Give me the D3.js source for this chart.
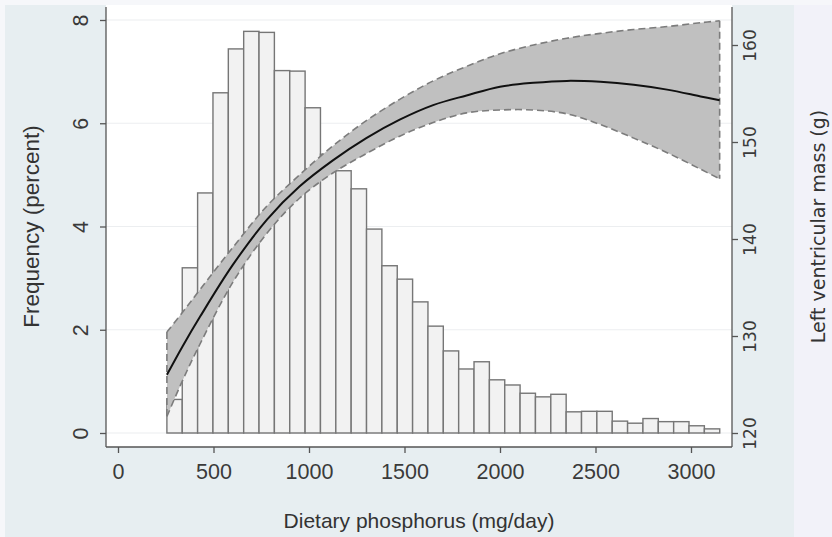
<!DOCTYPE html>
<html>
<head>
<meta charset="utf-8">
<script src="https://cdn.jsdelivr.net/npm/d3@7"></script>
<style>
  html, body { margin: 0; padding: 0; background: #f6f7fa; }
  svg { display: block; }
</style>
</head>
<body>
<svg id="chart" width="832" height="537"></svg>
<script>
// ---------------- data ----------------
const binStart = 256;           // mg/day, left edge of first histogram bin
const binWidth = 80.4;          // mg/day
const freqPercent = [0.65, 3.2, 4.65, 6.59, 7.44, 7.78, 7.76, 7.02, 7.01, 6.3,
                     5.4, 5.08, 4.73, 3.95, 3.24, 2.98, 2.54, 2.07, 1.59, 1.24,
                     1.38, 1.03, 0.93, 0.77, 0.70, 0.75, 0.41, 0.42, 0.42, 0.23,
                     0.19, 0.28, 0.22, 0.22, 0.14, 0.08];

const phosphorus = [256, 340, 430, 600, 780, 950, 1125, 1300, 1475, 1650, 1825, 2000, 2175, 2350, 2525, 2700, 2875, 3050, 3150];
const lvmFit     = [126.0, 129.0, 132.0, 137.3, 142.0, 145.4, 148.1, 150.4, 152.3, 153.8, 154.8, 155.7, 156.1, 156.3, 156.2, 155.9, 155.4, 154.7, 154.3];
const lvmUpper   = [130.4, 132.5, 134.8, 139.1, 143.4, 146.6, 149.6, 152.2, 154.4, 156.3, 157.8, 159.1, 160.0, 160.7, 161.2, 161.6, 161.9, 162.3, 162.5];
const lvmLower   = [121.7, 125.5, 129.2, 135.5, 140.6, 144.2, 146.8, 148.8, 150.6, 152.0, 153.0, 153.3, 153.3, 152.9, 151.8, 150.4, 148.9, 147.2, 146.2];

const xTicks = [0, 500, 1000, 1500, 2000, 2500, 3000];
const yLeftTicks = [0, 2, 4, 6, 8];
const yRightTicks = [120, 130, 140, 150, 160];

const xTitle = "Dietary phosphorus (mg/day)";
const yLeftTitle = "Frequency (percent)";
const yRightTitle = "Left ventricular mass (g)";

// ---------------- layout ----------------
const svg = d3.select("#chart");
const plot = { left: 106, right: 732, top: 7, bottom: 447 };

const x  = d3.scaleLinear().domain([0, 3000]).range([118, 691]);
const yL = d3.scaleLinear().domain([0, 8]).range([433, 20]);
const yR = d3.scaleLinear().domain([120, 160]).range([433, 45]);

// backgrounds
svg.append("rect").attr("x", 0).attr("y", 0).attr("width", 832).attr("height", 537).attr("fill", "#f6f7fa");
svg.append("rect").attr("x", 794).attr("y", 5).attr("width", 38).attr("height", 532).attr("fill", "#f2f2f9");
svg.append("rect").attr("x", 5).attr("y", 5).attr("width", 789).attr("height", 532).attr("fill", "#e7eef1");
svg.append("rect").attr("x", plot.left).attr("y", 5).attr("width", plot.right - plot.left).attr("height", plot.bottom - 5).attr("fill", "#ffffff");

// gridlines
svg.append("g").selectAll("line").data(yLeftTicks).join("line")
  .attr("x1", plot.left).attr("x2", plot.right)
  .attr("y1", d => yL(d)).attr("y2", d => yL(d))
  .attr("stroke", "#eceef0").attr("stroke-width", 1.2);

// histogram bars
const bins = freqPercent.map((f, i) => ({ x0: binStart + i * binWidth, x1: binStart + (i + 1) * binWidth, f }));
svg.append("g").selectAll("rect").data(bins).join("rect")
  .attr("x", d => x(d.x0)).attr("width", d => x(d.x1) - x(d.x0))
  .attr("y", d => yL(d.f)).attr("height", d => yL(0) - yL(d.f))
  .attr("fill", "#f2f2f2").attr("stroke", "#767676").attr("stroke-width", 1.4);

// confidence band
const curve = d3.curveCatmullRom.alpha(0.5);
const band = phosphorus.map((p, i) => ({ p, lo: lvmLower[i], hi: lvmUpper[i], fit: lvmFit[i] }));
const area = d3.area().x(d => x(d.p)).y0(d => yR(d.lo)).y1(d => yR(d.hi)).curve(curve);
svg.append("path").datum(band).attr("d", area).attr("fill", "#c0c0c0").attr("stroke", "none");
// dashed outline (upper, lower, end edges)
const upperLine = d3.line().x(d => x(d.p)).y(d => yR(d.hi)).curve(curve);
const lowerLine = d3.line().x(d => x(d.p)).y(d => yR(d.lo)).curve(curve);
const dashStyle = sel => sel.attr("fill", "none").attr("stroke", "#7c7c7c").attr("stroke-width", 1.6).attr("stroke-dasharray", "7,4");
svg.append("path").datum(band).attr("d", upperLine).call(dashStyle);
svg.append("path").datum(band).attr("d", lowerLine).call(dashStyle);
const first = band[0], last = band[band.length - 1];
svg.append("line").attr("x1", x(first.p)).attr("x2", x(first.p)).attr("y1", yR(first.hi)).attr("y2", yR(first.lo)).call(dashStyle);
svg.append("line").attr("x1", x(last.p)).attr("x2", x(last.p)).attr("y1", yR(last.hi)).attr("y2", yR(last.lo)).call(dashStyle);

// fitted line
svg.append("path").datum(band)
  .attr("d", d3.line().x(d => x(d.p)).y(d => yR(d.fit)).curve(curve))
  .attr("fill", "none").attr("stroke", "#111").attr("stroke-width", 2);

// axes
const axisColor = "#555";
const fontMain = "'Liberation Sans', Arial, Helvetica, sans-serif";
const fontRight = "'DejaVu Sans', Verdana, sans-serif";

// x axis
const gx = svg.append("g").attr("transform", `translate(0,${plot.bottom})`)
  .call(d3.axisBottom(x).tickValues(xTicks).tickFormat(d3.format("d")).tickSize(6).tickPadding(11));
gx.select(".domain").attr("d", `M${plot.left},0H${plot.right}`);
gx.selectAll(".domain, .tick line").attr("stroke", axisColor).attr("stroke-width", 1.3);
gx.selectAll("text").attr("font-family", fontMain).attr("font-size", 21.5).attr("fill", "#3a3a3a");

// left y axis
const gl = svg.append("g").attr("transform", `translate(${plot.left},0)`)
  .call(d3.axisLeft(yL).tickValues(yLeftTicks).tickSize(6).tickPadding(0));
gl.select(".domain").attr("d", `M0,${plot.top}V${plot.bottom}`);
gl.selectAll(".domain, .tick line").attr("stroke", axisColor).attr("stroke-width", 1.3);
gl.selectAll("text")
  .attr("font-family", fontMain).attr("font-size", 21.5).attr("fill", "#3a3a3a")
  .attr("x", 0).attr("dy", 0)
  .attr("text-anchor", "middle")
  .attr("transform", "translate(-25,0) rotate(-90)")
  .attr("dominant-baseline", "central");

// right y axis
const gr = svg.append("g").attr("transform", `translate(${plot.right},0)`)
  .call(d3.axisRight(yR).tickValues(yRightTicks).tickSize(6).tickPadding(0));
gr.select(".domain").attr("d", `M0,${plot.top}V${plot.bottom}`);
gr.selectAll(".domain, .tick line").attr("stroke", axisColor).attr("stroke-width", 1.3);
gr.selectAll("text")
  .attr("font-family", fontRight).attr("font-size", 17).attr("fill", "#3a3a3a")
  .attr("x", 0).attr("dy", 0)
  .attr("text-anchor", "middle")
  .attr("transform", "translate(18,0) rotate(-90)")
  .attr("dominant-baseline", "central");

// titles
svg.append("text").attr("x", (plot.left + plot.right) / 2).attr("y", 528)
  .attr("text-anchor", "middle").attr("font-family", fontMain).attr("font-size", 21).attr("fill", "#333")
  .text(xTitle);
svg.append("text").attr("transform", `translate(31,${(yL(0) + yL(8)) / 2}) rotate(-90)`)
  .attr("text-anchor", "middle").attr("dominant-baseline", "central")
  .attr("font-family", fontMain).attr("font-size", 22.5).attr("fill", "#333")
  .text(yLeftTitle);
svg.append("text").attr("transform", `translate(818,${(yL(0) + yL(8)) / 2}) rotate(-90)`)
  .attr("text-anchor", "middle").attr("dominant-baseline", "central")
  .attr("font-family", fontRight).attr("font-size", 19).attr("fill", "#333")
  .text(yRightTitle);
</script>
</body>
</html>
